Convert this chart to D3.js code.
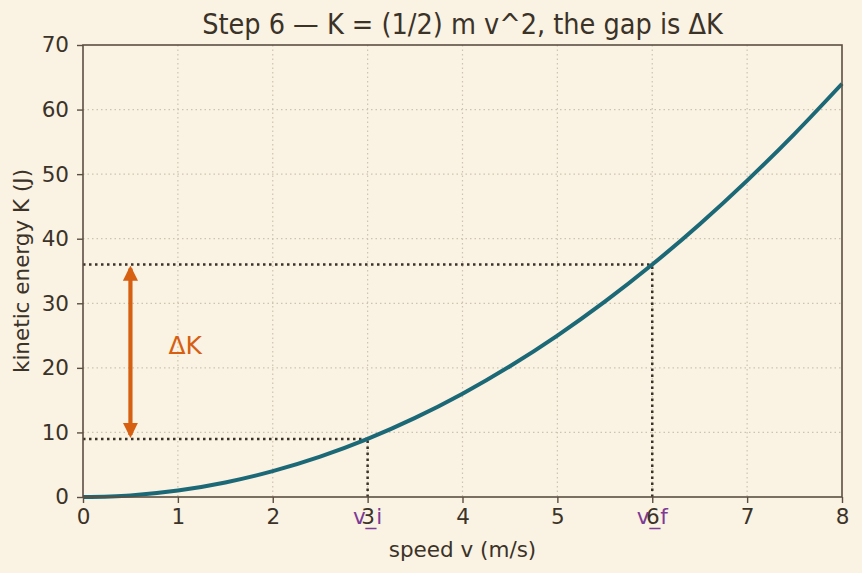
<!DOCTYPE html>
<html>
<head>
<meta charset="utf-8">
<script src="https://cdn.jsdelivr.net/npm/d3@7"></script>
<style>
  html, body { margin: 0; padding: 0; background: #faf2e2; }
  svg { display: block; font-family: "DejaVu Sans", sans-serif; }
</style>
</head>
<body>
<div id="chart"></div>
<script>
// speed samples (m/s) and kinetic energy (J)
const speeds = [0, 0.5, 1, 1.5, 2, 2.5, 3, 3.5, 4, 4.5, 5, 5.5, 6, 6.5, 7, 7.5, 8];
const energies = [0, 0.25, 1, 2.25, 4, 6.25, 9, 12.25, 16, 20.25, 25, 30.25, 36, 42.25, 49, 56.25, 64];
const xTicks = [0, 1, 2, 3, 4, 5, 6, 7, 8];
const yTicks = [0, 10, 20, 30, 40, 50, 60, 70];
const markers = [
  { name: "v_i", v: 3, k: 9 },
  { name: "v_f", v: 6, k: 36 }
];
const arrowV = 0.5;
const deltaLabel = { text: "ΔK", v: 0.9, k: 23.5 };

const W = 862, H = 573;
const margin = { top: 45, right: 20, bottom: 76, left: 83 };
const width = W - margin.left - margin.right;
const height = H - margin.top - margin.bottom;

const ink = "#3b3228";
const axisCol = "#5b4f42";
const orange = "#d65f12";
const fs = 21.5;

const svg = d3.select("#chart").append("svg")
  .attr("width", W).attr("height", H);

svg.append("rect").attr("width", W).attr("height", H).attr("fill", "#faf2e2");

const g = svg.append("g").attr("transform", `translate(${margin.left},${margin.top})`);

const x = d3.scaleLinear().domain([0, 8]).range([0, width]);
const y = d3.scaleLinear().domain([0, 70]).range([height, 0]);

// grid
g.append("g")
  .selectAll("line").data(xTicks.slice(1, -1)).join("line")
  .attr("x1", d => x(d)).attr("x2", d => x(d))
  .attr("y1", 0).attr("y2", height)
  .attr("stroke", "#cdc3b3").attr("stroke-width", 1.2).attr("stroke-dasharray", "1.5,3");
g.append("g")
  .selectAll("line").data(yTicks.slice(1, -1)).join("line")
  .attr("x1", 0).attr("x2", width)
  .attr("y1", d => y(d)).attr("y2", d => y(d))
  .attr("stroke", "#cdc3b3").attr("stroke-width", 1.2).attr("stroke-dasharray", "1.5,3");

// dotted guides
markers.forEach(m => {
  g.append("line")
    .attr("x1", x(0)).attr("x2", x(m.v))
    .attr("y1", y(m.k)).attr("y2", y(m.k))
    .attr("stroke", ink).attr("stroke-width", 2.5).attr("stroke-dasharray", "2.5,3.5");
  g.append("line")
    .attr("x1", x(m.v)).attr("x2", x(m.v))
    .attr("y1", y(0)).attr("y2", y(m.k))
    .attr("stroke", ink).attr("stroke-width", 2.5).attr("stroke-dasharray", "2.5,3.5");
});

// curve
const line = d3.line()
  .x((d, i) => x(speeds[i]))
  .y(d => y(d))
  .curve(d3.curveCatmullRom.alpha(0.5));
g.append("path")
  .datum(energies)
  .attr("d", line)
  .attr("fill", "none")
  .attr("stroke", "#1b6877")
  .attr("stroke-width", 4);

// double arrow for delta K
const defs = svg.append("defs");
defs.append("marker")
  .attr("id", "head")
  .attr("viewBox", "0 0 10 10")
  .attr("refX", 8).attr("refY", 5)
  .attr("markerWidth", 3.6).attr("markerHeight", 3.6)
  .attr("orient", "auto-start-reverse")
  .attr("markerUnits", "strokeWidth")
  .append("path").attr("d", "M0,0 L10,5 L0,10 z").attr("fill", orange);

g.append("line")
  .attr("x1", x(arrowV)).attr("x2", x(arrowV))
  .attr("y1", y(markers[0].k) - 4).attr("y2", y(markers[1].k) + 4)
  .attr("stroke", orange).attr("stroke-width", 4.2)
  .attr("marker-start", "url(#head)")
  .attr("marker-end", "url(#head)");

g.append("text")
  .attr("x", x(deltaLabel.v)).attr("y", y(deltaLabel.k))
  .attr("dy", "0.35em")
  .attr("fill", orange).attr("font-size", 25)
  .text(deltaLabel.text);

// axes
const xAxis = g.append("g")
  .attr("transform", `translate(0,${height})`)
  .call(d3.axisBottom(x).tickValues(xTicks).tickSize(6).tickPadding(6));
const yAxis = g.append("g")
  .call(d3.axisLeft(y).tickValues(yTicks).tickSize(6).tickPadding(8));

[xAxis, yAxis].forEach(a => {
  a.select(".domain").remove();
  a.selectAll("line").attr("stroke", axisCol).attr("stroke-width", 1.4);
  a.selectAll("text").attr("fill", ink).attr("font-size", fs).attr("font-family", "DejaVu Sans, sans-serif");
});

// frame
g.append("rect")
  .attr("width", width).attr("height", height)
  .attr("fill", "none").attr("stroke", axisCol).attr("stroke-width", 1.6);

// marker labels on x axis (they sit over the tick labels, as in the original)
g.selectAll("text.mk").data(markers).join("text")
  .attr("class", "mk")
  .attr("x", d => x(d.v)).attr("y", height + 27)
  .attr("text-anchor", "middle")
  .attr("fill", "#7d3a96").attr("font-size", fs)
  .text(d => d.name);

// labels
g.append("text")
  .attr("x", width / 2).attr("y", height + 60)
  .attr("text-anchor", "middle").attr("fill", ink).attr("font-size", fs)
  .text("speed v (m/s)");
g.append("text")
  .attr("transform", `translate(-54,${height / 2}) rotate(-90)`)
  .attr("text-anchor", "middle").attr("fill", ink).attr("font-size", fs)
  .text("kinetic energy K (J)");

svg.append("text")
  .attr("x", margin.left + width / 2).attr("y", 34)
  .attr("text-anchor", "middle").attr("fill", ink)
  .attr("font-size", 28.5).attr("font-stretch", "condensed")
  .attr("font-family", "DejaVu Sans Condensed, DejaVu Sans, sans-serif")
  .text("Step 6 — K = (1/2) m v^2, the gap is ΔK");
</script>
</body>
</html>
